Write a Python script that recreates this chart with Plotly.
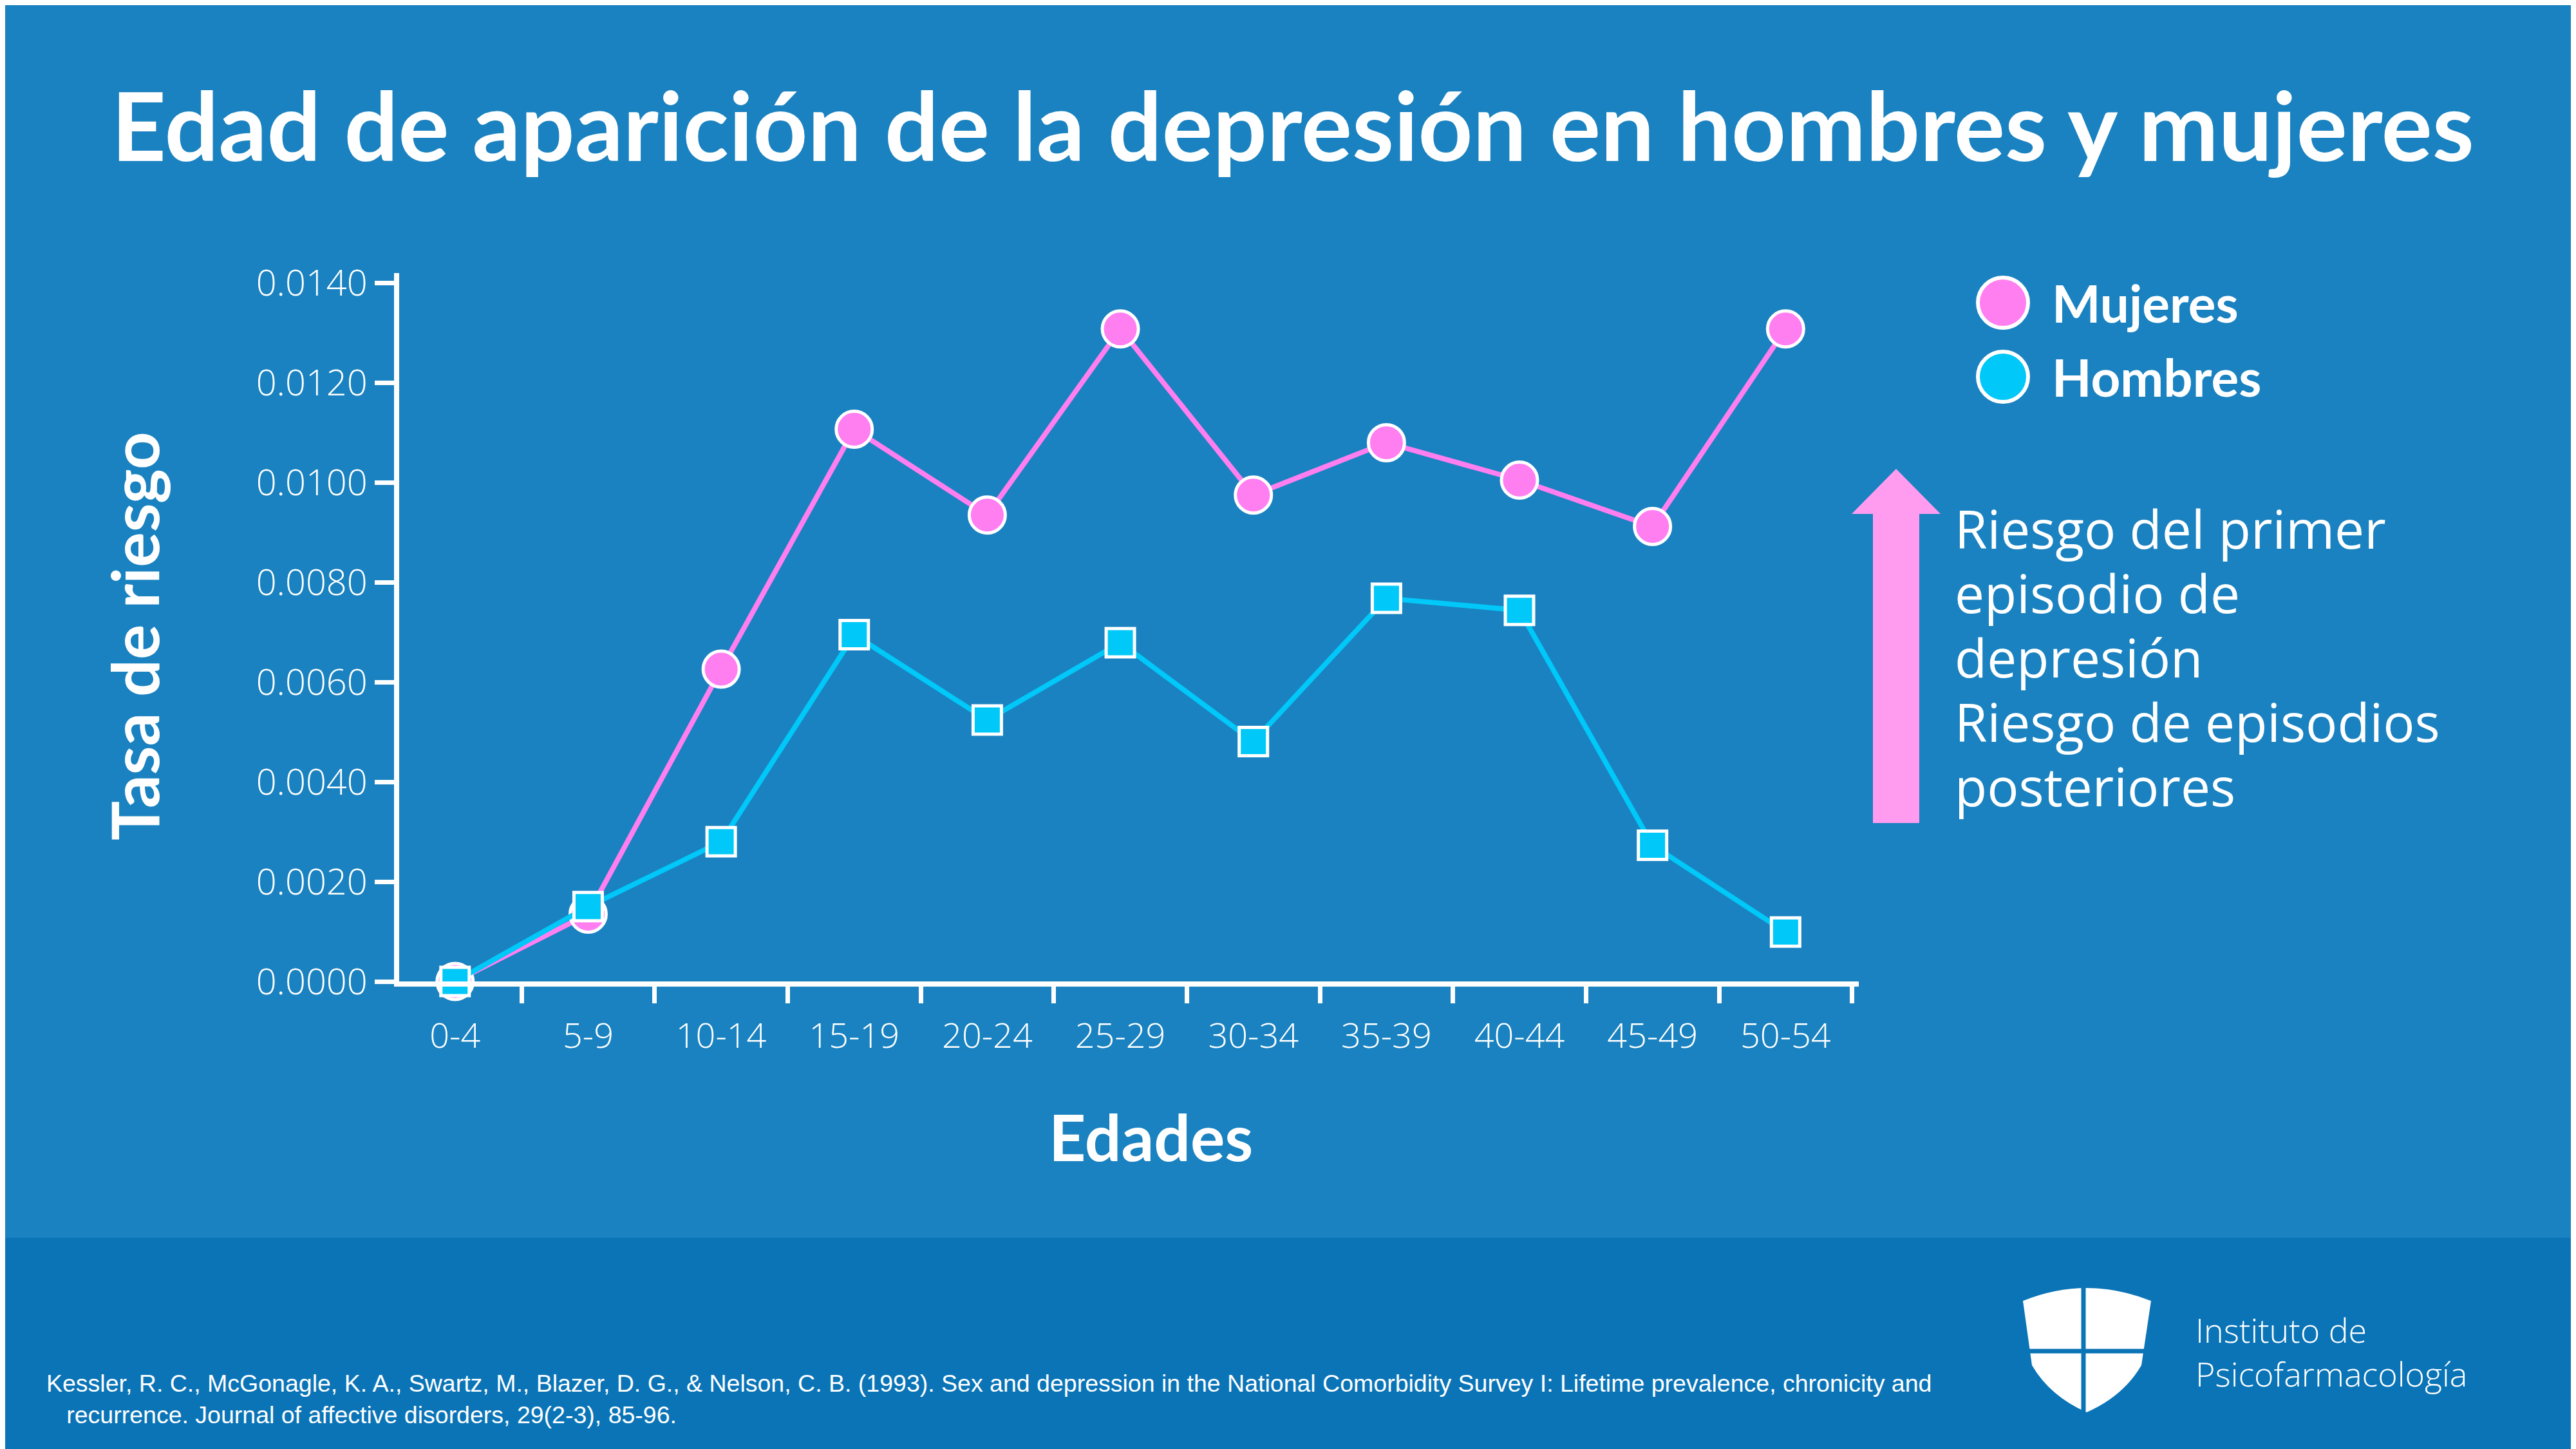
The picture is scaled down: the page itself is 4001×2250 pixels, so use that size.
import plotly.graph_objects as go

ages = ["0-4","5-9","10-14","15-19","20-24","25-29","30-34","35-39","40-44","45-49","50-54"]
mujeres = [0.0000,0.00135,0.00626,0.01107,0.00935,0.01308,0.00975,0.0108,0.01005,0.00912,0.01308]
hombres = [0.0000,0.0015,0.0028,0.00695,0.00524,0.00679,0.00481,0.00768,0.00744,0.00273,0.00099]
yticks = [0,0.002,0.004,0.006,0.008,0.010,0.012,0.014]
yticklabels = ["0.0000","0.0020","0.0040","0.0060","0.0080","0.0100","0.0120","0.0140"]
note_lines = ["Riesgo del primer", "episodio de", "depresión", "Riesgo de episodios", "posteriores"]

W, H = 4001, 2250
L, R, T, B = 612, 2879, 416, 1516
def px(X): return (X - L) / (R - L)
def py(Y): return (B - Y) / (B - T)

BG = "#1a82c0"; BG2 = "#0a74b7"; PINK = "#ff7ef0"; CYAN = "#00c8f8"; ARROW = "#ff9cf0"

fig = go.Figure()
fig.add_trace(go.Scatter(x=ages, y=mujeres, name="Mujeres", mode="lines+markers", showlegend=False,
    line=dict(color=PINK, width=8), cliponaxis=False,
    marker=dict(symbol="circle", size=56, color=PINK, line=dict(color="white", width=5))))
fig.add_trace(go.Scatter(x=ages, y=hombres, name="Hombres", mode="lines+markers", showlegend=False,
    line=dict(color=CYAN, width=8), cliponaxis=False,
    marker=dict(symbol="square", size=44, color=CYAN, line=dict(color="white", width=5))))

shapes = [
    dict(type="rect", xref="paper", yref="paper", x0=px(0), x1=px(W), y0=py(1914), y1=py(H),
         fillcolor=BG2, line=dict(width=0), layer="below"),
    dict(type="path", xref="paper", yref="paper",
         path=f"M {px(2901)} {py(1270)} L {px(2973)} {py(1270)} L {px(2973)} {py(790)} L {px(3006)} {py(790)} L {px(2937)} {py(720)} L {px(2868)} {py(790)} L {px(2901)} {py(790)} Z",
         fillcolor=ARROW, line=dict(width=0)),
]
for cy, col in [(462, PINK), (577, CYAN)]:
    shapes.append(dict(type="circle", xref="paper", yref="paper",
                       x0=px(3064), x1=px(3142), y0=py(cy - 39), y1=py(cy + 39),
                       fillcolor=col, line=dict(color="white", width=6)))
shield = (f"M {px(3134)} {py(2012)} Q {px(3233)} {py(1972)} {px(3333)} {py(2012)} "
          f"L {px(3318)} {py(2112)} Q {px(3290)} {py(2160)} {px(3233)} {py(2185)} "
          f"Q {px(3176)} {py(2160)} {px(3148)} {py(2112)} Z")
shapes.append(dict(type="path", xref="paper", yref="paper", path=shield, fillcolor="white", line=dict(width=0)))
shapes.append(dict(type="line", xref="paper", yref="paper", x0=px(3228), x1=px(3228), y0=py(1985), y1=py(2190),
                   line=dict(color=BG2, width=7)))
shapes.append(dict(type="line", xref="paper", yref="paper", x0=px(3130), x1=px(3340), y0=py(2090), y1=py(2090),
                   line=dict(color=BG2, width=7)))

ann = [
    dict(text="<b>Edad de aparición de la depresión en hombres y mujeres</b>", x=px(2000), y=py(185),
         font=dict(size=148, color="white", family="Lato")),
    dict(text="<b>Edades</b>", x=px(1779), y=py(1756), font=dict(size=100, color="white", family="Lato")),
    dict(text="<b>Tasa de riesgo</b>", x=px(199), y=py(980), textangle=-90,
         font=dict(size=102, color="white", family="Lato")),
    dict(text="<b>Mujeres</b>", x=px(3177), y=py(462), xanchor="left",
         font=dict(size=80, color="white", family="Lato")),
    dict(text="<b>Hombres</b>", x=px(3177), y=py(577), xanchor="left",
         font=dict(size=80, color="white", family="Lato")),
    dict(text="Instituto de<br>Psicofarmacología", x=px(3400), y=py(2090), xanchor="left", align="left",
         font=dict(size=52, color="white", family="Open Sans", weight=300)),
    dict(text="Kessler, R. C., McGonagle, K. A., Swartz, M., Blazer, D. G., &amp; Nelson, C. B. (1993). Sex and depression in the National Comorbidity Survey I: Lifetime prevalence, chronicity and<br>   recurrence. Journal of affective disorders, 29(2-3), 85-96.",
         x=px(62), y=py(2164), xanchor="left", align="left",
         font=dict(size=37.5, color="white", family="Liberation Sans")),
]
for i, line in enumerate(note_lines):
    ann.append(dict(text=line, x=px(3026), y=py(812 + 100 * i), xanchor="left",
                    font=dict(size=82, color="white", family="Open Sans")))
for a in ann:
    a.update(xref="paper", yref="paper", showarrow=False)
    a.setdefault("yanchor", "middle"); a.setdefault("xanchor", "center")

fig.update_layout(
    width=W, height=H, paper_bgcolor=BG, plot_bgcolor=BG,
    margin=dict(l=L, r=W - R, t=T, b=H - B),
    shapes=shapes, annotations=ann, showlegend=False,
    xaxis=dict(type="category", range=[-0.42, 10.55], tickson="boundaries", ticks="outside",
               ticklen=26, tickwidth=7, tickcolor="white", showline=True, linewidth=8, linecolor="white",
               showgrid=False, zeroline=False, ticklabelstandoff=30,
               tickfont=dict(size=54, color="white", family="Open Sans", weight=300)),
    yaxis=dict(range=[0, 0.0142], tickvals=yticks, ticktext=yticklabels, ticks="outside",
               ticklen=30, tickwidth=7, tickcolor="white", showline=True, linewidth=8, linecolor="white",
               showgrid=False, zeroline=False,
               tickfont=dict(size=56, color="white", family="Open Sans", weight=300)),
)
fig.write_html("out.html")
